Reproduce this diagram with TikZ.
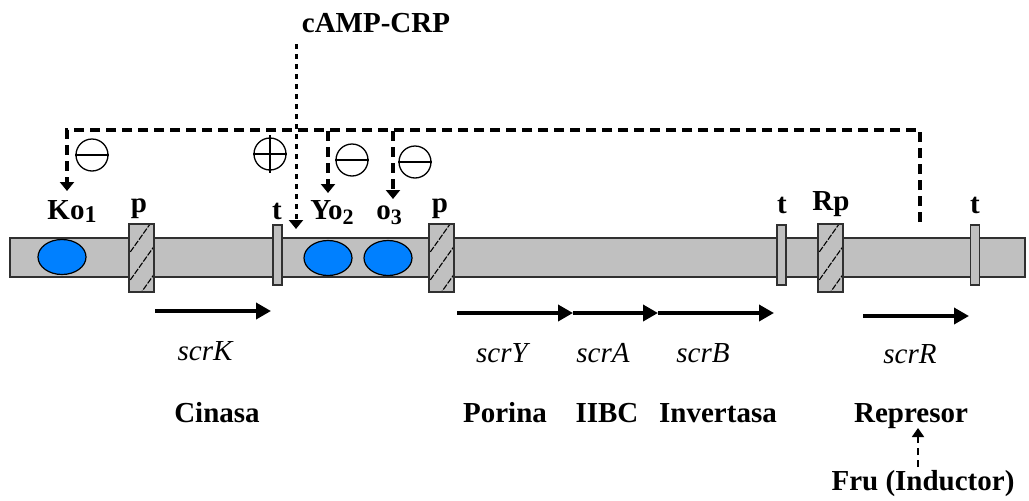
\documentclass[tikz,border=0pt]{standalone}
\usepackage{fontspec}
\setmainfont{Liberation Serif}
\usetikzlibrary{arrows.meta,shapes.geometric}
\definecolor{barfill}{HTML}{C0C0C0}
\definecolor{barline}{HTML}{303030}
\definecolor{opblue}{HTML}{0080FF}
\begin{document}
\begin{tikzpicture}[x=1pt,y=-1pt,
  lbl/.style={font=\fontsize{29}{34}\selectfont\bfseries, inner sep=0pt, anchor=base},
  gene/.style={font=\fontsize{29}{34}\selectfont\itshape, inner sep=0pt, anchor=base},
  box/.style={draw=barline, fill=barfill, line width=1.6pt, inner sep=0pt, rectangle},
  pbox/.style={box, minimum width=25pt, minimum height=68pt,
     path picture={\foreach \d in {-22,6,34}
       \draw[line width=1.1pt, black, dash pattern=on 6pt off 1.5pt]
         ([xshift=-3pt,yshift=\d pt]path picture bounding box.south west) -- ++(34,-48);}},
  tbox/.style={box, minimum width=9pt, minimum height=60pt},
  opr/.style={ellipse, draw=black, line width=1.2pt, fill=opblue, minimum width=48pt, minimum height=35pt, inner sep=0pt},
  sign/.style={circle, draw=black, line width=1.3pt, minimum size=32pt, inner sep=0pt},
  reg/.style={line width=3.3pt, dash pattern=on 10pt off 6pt},
  regtip/.style={-{Triangle[width=14pt,length=9pt]}},
  camp/.style={line width=3pt, dash pattern=on 5pt off 5pt, -{Triangle[width=14pt,length=9pt]}},
  genarrow/.style={line width=3.6pt, -{Triangle[width=16pt,length=15pt]}},
  inducer/.style={line width=1.8pt, dash pattern=on 7pt off 5pt, -{Triangle[width=12pt,length=9pt]}}
]
\useasboundingbox (0,0) rectangle (1029,501);

% DNA bar
\node[box, minimum width=1015pt, minimum height=39pt] (bar) at (517.5,257.5) {};

% operators
\node[opr] (o1) at (62,257) {};
\node[opr] (o2) at (328,258) {};
\node[opr] (o3) at (388,258) {};

% promoters and terminators
\node[pbox] (p1) at (141.5,258) {};
\node[pbox] (p2) at (441.5,258) {};
\node[pbox] (rp) at (830.5,258) {};
\node[tbox] (t1) at (277.5,255) {};
\node[tbox] (t2) at (781.5,255) {};
\node[tbox] (t3) at (975,255) {};

% element labels
\node[lbl] (lko) at (72,219) {Ko\raisebox{-3pt}{\fontsize{24}{28}\selectfont 1}};
\node[lbl] (lp1) at (139,212) {p};
\node[lbl] (lt1) at (277,219) {t};
\node[lbl] (lyo) at (332,219) {Yo\raisebox{-5pt}{\fontsize{22}{26}\selectfont 2}};
\node[lbl] (lo3) at (389,219) {o\raisebox{-5pt}{\fontsize{22}{26}\selectfont 3}};
\node[lbl] (lp2) at (440,212) {p};
\node[lbl] (lt2) at (782,213) {t};
\node[lbl] (lrp) at (831,210) {Rp};
\node[lbl] (lt3) at (975,213) {t};

% cAMP-CRP
\node[lbl] (campl) at (376,32) {cAMP-CRP};
\coordinate (campstart) at (296,44);
\coordinate (camptip) at (296,229);
\draw[camp] (campstart) -- (camptip);

% repressor regulation network
\coordinate (rbot) at (920,222);
\coordinate (rtop) at (920,130);
\coordinate (ktop) at (67,130);
\coordinate (ktip) at (67,191);
\coordinate (ytop) at (328,131);
\coordinate (ytip) at (328,193);
\coordinate (otop) at (393,131);
\coordinate (otip) at (393,199);
\draw[reg, regtip] (rbot) -- (rtop) -- (ktop) -- (ktip);
\draw[reg, regtip] (ytop) -- (ytip);
\draw[reg, regtip] (otop) -- (otip);

% signs
\node[sign] (s1) at (92,155) {};
\draw[line width=1.3pt] (s1.west) -- (s1.east);
\node[sign] (s2) at (270,154) {};
\draw[line width=1.3pt] (s2.west) -- (s2.east);
\draw[line width=1.3pt] ([yshift=2pt]s2.north) -- ([yshift=-2pt]s2.south);
\node[sign] (s3) at (352,160) {};
\draw[line width=1.3pt] (s3.west) -- (s3.east);
\node[sign] (s4) at (415,162) {};
\draw[line width=1.3pt] (s4.west) -- (s4.east);

% gene arrows
\coordinate (k0) at (155,311);
\coordinate (k1) at (271,311);
\draw[genarrow] (k0) -- (k1);
\coordinate (y0) at (457,313);
\coordinate (y1) at (573,313);
\coordinate (a1) at (658,313);
\coordinate (b1) at (774,313);
\draw[genarrow] (y0) -- (y1);
\draw[genarrow] (y1) -- (a1);
\draw[genarrow] (a1) -- (b1);
\coordinate (r0) at (863,316);
\coordinate (r1) at (969,316);
\draw[genarrow] (r0) -- (r1);

% gene names
\node[gene] (gk) at (205,360) {scrK};
\node[gene] (gy) at (502,362) {scrY};
\node[gene] (ga) at (603,362) {scrA};
\node[gene] (gb) at (703,362) {scrB};
\node[gene] (gr) at (910,363) {scrR};

% products
\node[lbl] (pk) at (217,422) {Cinasa};
\node[lbl] (py) at (505,422) {Porina};
\node[lbl] (pa) at (607,422) {IIBC};
\node[lbl] (pb) at (718,422) {Invertasa};
\node[lbl] (pr) at (911,422) {Represor};
\node[lbl] (fru) at (923,490) {Fru (Inductor)};

\coordinate (fstart) at (918,467);
\coordinate (ftip) at (918,428);
\draw[inducer] (fstart) -- (ftip);
\end{tikzpicture}
\end{document}
